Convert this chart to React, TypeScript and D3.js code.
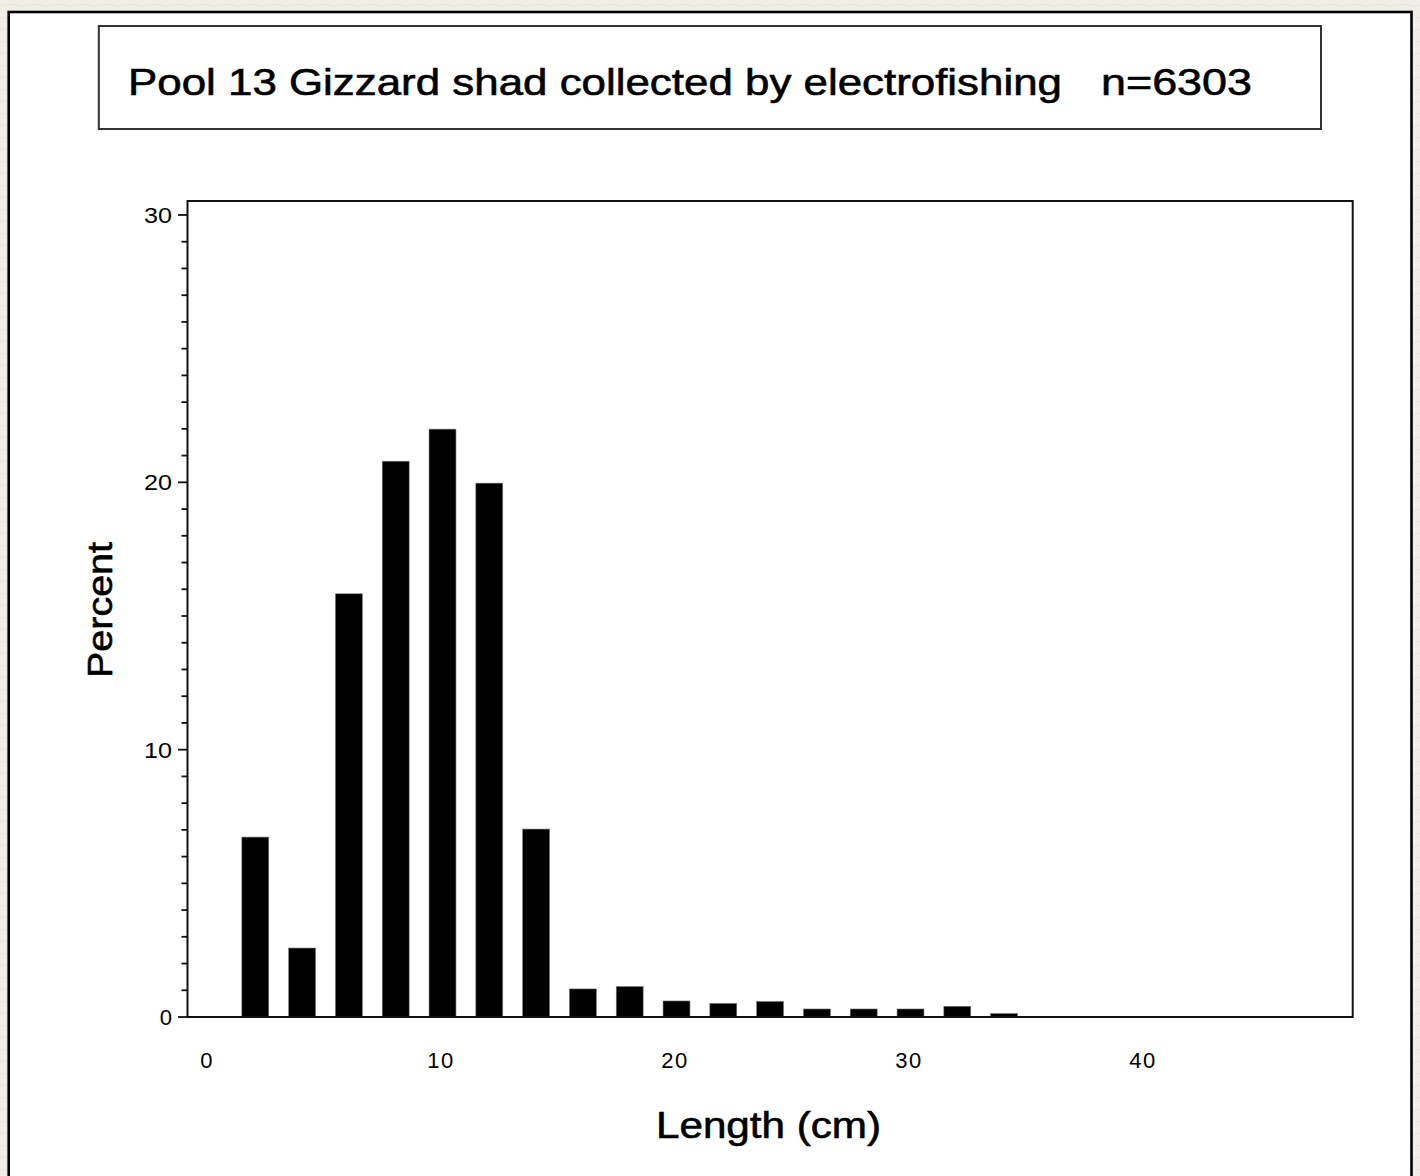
import React from "react";
import * as d3 from "d3";

const TITLE_MAIN = "Pool 13 Gizzard shad collected by electrofishing";
const TITLE_N = "n=6303";
const X_LABEL = "Length (cm)";
const Y_LABEL = "Percent";

const midpoints = [2, 4, 6, 8, 10, 12, 14, 16, 18, 20, 22, 24, 26, 28, 30, 32, 34];
const percents = [6.73, 2.58, 15.83, 20.79, 21.99, 19.97, 7.03, 1.05, 1.14, 0.6, 0.51, 0.58, 0.3, 0.3, 0.3, 0.4, 0.13];

const xTickValues = [0, 10, 20, 30, 40];
const yMajorTicks = [0, 10, 20, 30];

const FONT = "'Liberation Sans', Arial, Helvetica, sans-serif";

export default function App() {
  const W = 1420;
  const H = 1176;

  // plot frame
  const frameL = 187.5;
  const frameR = 1352.7;
  const frameT = 201;
  const frameB = 1017;

  const x = d3.scaleLinear().domain([0, 10]).range([208.5, 442.5]);
  const y = d3.scaleLinear().domain([0, 30]).range([1017, 215]);

  const barW = x(1.15) - x(0);
  const minorTicks = d3.range(0, 31, 1).filter((v) => v % 10 !== 0);

  return (
    <svg
      width={W}
      height={H}
      style={{ position: "absolute", left: 0, top: 0, display: "block" }}
      xmlns="http://www.w3.org/2000/svg"
    >
      <defs>
        <pattern id="bg" width="24" height="24" patternUnits="userSpaceOnUse">
          <rect width="24" height="24" fill="#f1eee7" />
          <path d="M0 6 L12 4 L24 7" stroke="#e9e4d9" strokeWidth="1.2" fill="none" />
          <path d="M0 17 L10 19 L24 16" stroke="#ebe6dc" strokeWidth="1" fill="none" />
        </pattern>
      </defs>
      <rect x={0} y={0} width={W} height={H} fill="url(#bg)" />
      {/* white panel */}
      <rect x={8.7} y={12} width={1411.5 - 8.7} height={H + 20} fill="#ffffff" stroke="#000" strokeWidth={2.6} />

      {/* title box */}
      <rect x={98.8} y={26} width={1321 - 98.8} height={129 - 26} fill="#fff" stroke="#333" strokeWidth={2} />
      <text
        x={128}
        y={95}
        fontFamily={FONT}
        fontSize={37}
        fill="#000"
        stroke="#000"
        strokeWidth={0.6}
        textLength={1062 - 128}
        lengthAdjust="spacingAndGlyphs"
      >
        {TITLE_MAIN}
      </text>
      <text
        x={1101}
        y={95}
        fontFamily={FONT}
        fontSize={37}
        fill="#000"
        stroke="#000"
        strokeWidth={0.6}
        textLength={1252 - 1101}
        lengthAdjust="spacingAndGlyphs"
      >
        {TITLE_N}
      </text>

      {/* bars */}
      {midpoints.map((m, i) => (
        <rect
          key={m}
          x={x(m) - barW / 2}
          y={y(percents[i])}
          width={barW}
          height={y(0) - y(percents[i])}
          fill="#000"
          stroke="#777"
          strokeWidth={0.6}
        />
      ))}

      {/* plot frame */}
      <rect
        x={frameL}
        y={frameT}
        width={frameR - frameL}
        height={frameB - frameT}
        fill="none"
        stroke="#111"
        strokeWidth={2}
      />

      {/* y ticks */}
      {yMajorTicks.map((v) => (
        <g key={"ym" + v}>
          <line x1={178} x2={frameL} y1={y(v)} y2={y(v)} stroke="#111" strokeWidth={1.8} />
          <text
            x={172}
            y={y(v)}
            dy="0.36em"
            textAnchor="end"
            fontFamily={FONT}
            fontSize={22}
            fill="#000"
            textLength={v === 0 ? undefined : 28}
            lengthAdjust="spacingAndGlyphs"
          >
            {v}
          </text>
        </g>
      ))}
      {minorTicks.map((v) => (
        <line key={"yn" + v} x1={181.5} x2={frameL} y1={y(v)} y2={y(v)} stroke="#111" strokeWidth={1.8} />
      ))}

      {/* x tick labels */}
      {xTickValues.map((v) => (
        <text
          key={"xl" + v}
          x={x(v) - 1.5}
          y={1060}
          dy="0.36em"
          textAnchor="middle"
          fontFamily={FONT}
          fontSize={22}
          fill="#000"
          letterSpacing={1.5}
        >
          {v}
        </text>
      ))}

      {/* axis labels */}
      <text
        x={656}
        y={1138}
        fontFamily={FONT}
        fontSize={36}
        fill="#000"
        stroke="#000"
        strokeWidth={0.6}
        textLength={881 - 656}
        lengthAdjust="spacingAndGlyphs"
      >
        {X_LABEL}
      </text>
      <text
        transform={`translate(112, 610) rotate(-90)`}
        textAnchor="middle"
        fontFamily={FONT}
        fontSize={35}
        fill="#000"
        stroke="#000"
        strokeWidth={0.6}
        textLength={678 - 542}
        lengthAdjust="spacingAndGlyphs"
      >
        {Y_LABEL}
      </text>
    </svg>
  );
}
